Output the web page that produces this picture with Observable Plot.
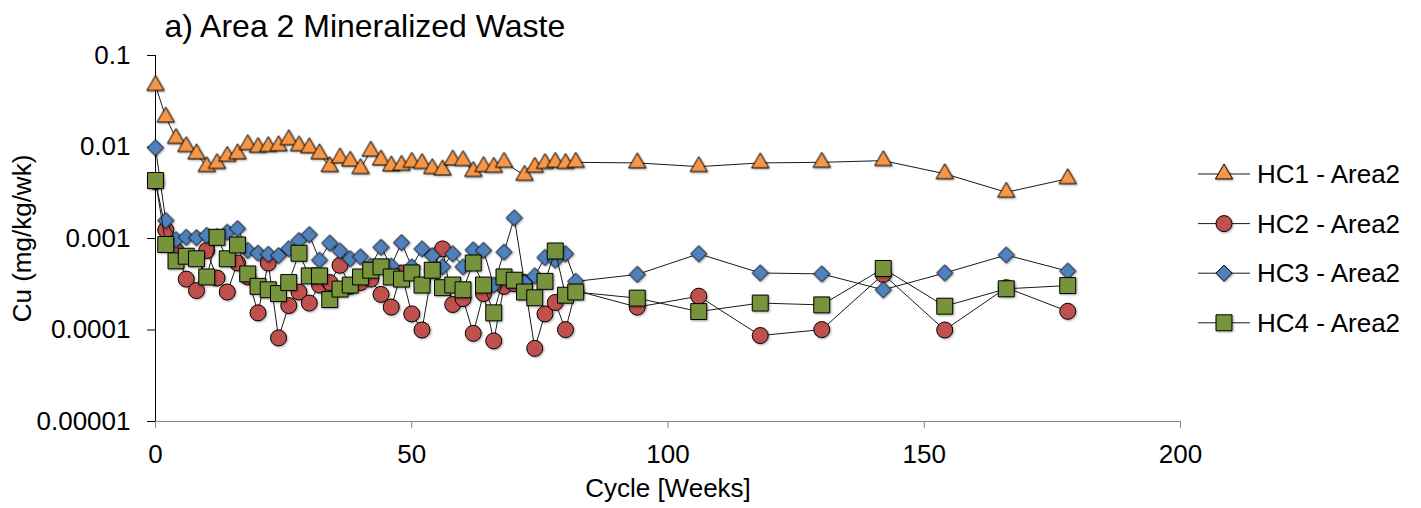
<!DOCTYPE html>
<html>
<head>
<meta charset="utf-8">
<script src="https://cdn.jsdelivr.net/npm/d3@7"></script>
<script src="https://cdn.jsdelivr.net/npm/@observablehq/plot@0.6"></script>
<style>
  html, body { margin: 0; padding: 0; background: #fff; }
  #chart { position: relative; width: 1421px; height: 508px; }
  svg { font-family: "Liberation Sans", Arial, sans-serif; }
  .shadowed { filter: drop-shadow(1.5px 1.5px 1px rgba(0,0,0,0.35)); }
</style>
</head>
<body>
<div id="chart"></div>
<script>
// ---- data ----
const weeks = [0,2,4,6,8,10,12,14,16,18,20,22,24,26,28,30,32,34,36,38,40,42,44,46,48,50,52,54,56,58,60,62,64,66,68,70,72,74,76,78,80,82,94,106,118,130,142,154,166,178];

const hc1 = [0.047,0.0212,0.0124,0.0101,0.0084,0.0061,0.0066,0.0079,0.0084,0.0106,0.0099,0.0101,0.0103,0.012,0.0103,0.0098,0.0084,0.0061,0.0076,0.0070,0.0058,0.0090,0.0072,0.0062,0.0063,0.0068,0.0066,0.0058,0.0056,0.0072,0.0071,0.0054,0.0061,0.0060,0.0068,null,0.0049,0.0060,0.0066,0.0068,0.0066,0.0068,0.0067,0.0061,0.0067,0.0068,0.0071,0.0051,0.0032,0.0045];

const hc2 = [0.0042,0.00124,0.00074,0.00036,0.00027,0.00074,0.00037,0.00026,0.00054,0.00038,0.000154,0.00054,0.000082,0.000185,0.00026,0.000197,0.00031,0.00033,0.00051,0.0003,0.00033,0.00036,0.000245,0.000178,0.00042,0.00015,0.0001,0.00045,0.00077,0.00019,0.00022,0.000092,0.00025,0.000076,0.0003,0.00032,0.00033,0.000063,0.00015,0.0002,0.000101,0.00027,0.000178,0.000234,0.000087,0.000101,0.000405,0.0001,0.00029,0.00016];

const hc3 = [0.0098,0.00157,0.00097,0.00103,0.00102,0.00108,0.00105,0.00117,0.00128,0.00074,0.00069,0.00067,0.00065,0.00077,0.00095,0.0011,0.00058,0.00089,0.00073,0.0006,0.00063,0.0005,0.0008,0.0005,0.0009,0.00049,0.00077,0.00065,0.00049,0.00068,0.00049,0.00075,0.00074,0.00031,0.00071,0.00168,0.00033,0.00039,0.00062,0.00058,0.00068,0.00034,0.000405,0.00068,0.00042,0.00041,0.000275,0.00042,0.00066,0.00044];

const hc4 = [0.0043,0.00086,0.00057,0.00064,0.0006,0.00038,0.00103,0.0006,0.00085,0.00041,0.0003,0.000275,0.00025,0.00033,0.00069,0.00039,0.00039,0.000215,0.00028,0.00031,0.00038,0.00045,0.00049,0.00038,0.00036,0.00042,0.00031,0.00045,0.00029,0.00031,0.000275,0.00054,0.00031,0.000154,0.00038,0.00035,0.00026,0.000225,0.00034,0.00073,0.00024,0.00026,0.000223,0.000159,0.000197,0.000188,0.00047,0.000182,0.000282,0.000306];

const seriesNames = ["HC1 - Area2","HC2 - Area2","HC3 - Area2","HC4 - Area2"];
const seriesValues = [hc1, hc2, hc3, hc4];
const seriesSymbols = ["triangle","circle","diamond2","square"];
const seriesFills = ["#F79646","#C0504D","#4F81BD","#77933C"];
const seriesR = [6.4, 8, 7.3, 9];

const xTicks = [0,50,100,150,200];
const yTicks = [0.00001,0.0001,0.001,0.01,0.1];
const yTickLabels = ["0.00001","0.0001","0.001","0.01","0.1"];

const titleText = "a) Area 2 Mineralized Waste";
const xLabel = "Cycle [Weeks]";
const yLabel = "Cu (mg/kg/wk)";

// ---- build ----
const FONT = "\"Liberation Sans\", Arial, sans-serif";
const series = seriesNames.map((name, i) => ({
  name,
  symbol: seriesSymbols[i],
  fill: seriesFills[i],
  r: seriesR[i],
  rows: weeks.map((w, j) => ({week: w, value: seriesValues[i][j]})).filter(d => d.value != null)
}));

const marks = [
  Plot.ruleY([yTicks[0]], {x1: 0, x2: 200, stroke: "#868686", strokeWidth: 1}),
  Plot.ruleX([0], {y1: yTicks[0], y2: yTicks[yTicks.length - 1], stroke: "#000", strokeWidth: 1}),
  Plot.axisY({ticks: yTicks, tickFormat: d => yTickLabels[yTicks.indexOf(d)], tickSize: 8, tickPadding: 17, fontSize: 26, label: null, stroke: "#000"}),
  Plot.axisX({ticks: xTicks, tickFormat: d => String(d), tickSize: 7, tickPadding: 16, fontSize: 26, label: null, stroke: "#868686"}),
  Plot.text([titleText], {frameAnchor: "top-left", dx: 9, dy: -29, textAnchor: "start", lineAnchor: "middle", fontSize: 32, fill: "#000"}),
  Plot.text([xLabel], {frameAnchor: "bottom", dy: 67, textAnchor: "middle", lineAnchor: "middle", fontSize: 26, fill: "#000"}),
  Plot.text([yLabel], {frameAnchor: "left", dx: -133, rotate: -90, textAnchor: "middle", lineAnchor: "middle", fontSize: 26, fill: "#000"})
];
for (const s of series) {
  marks.push(Plot.line(s.rows, {x: "week", y: "value", stroke: "#1a1a1a", strokeWidth: 1}));
  marks.push(Plot.dot(s.rows, {x: "week", y: "value", symbol: s.symbol, r: s.r, fill: s.fill, stroke: "#000", strokeWidth: 1, className: "shadowed"}));
}

const svg = Plot.plot({
  width: 1421,
  height: 508,
  marginLeft: 155,
  marginRight: 241,
  marginTop: 55,
  marginBottom: 87,
  style: {fontFamily: FONT, color: "#000", background: "#fff", overflow: "visible"},
  x: {type: "linear", domain: [0, 200]},
  y: {type: "log", domain: [yTicks[0], yTicks[yTicks.length - 1]]},
  marks
});
document.getElementById("chart").appendChild(svg);

// ---- legend (drawn into the same svg) ----
const lg = d3.select(svg).append("g").attr("font-family", FONT).attr("text-anchor", "start");
const legendLeft = 1198, legendTop = 174, legendStep = 49.6, legendLineW = 52;
const symMap = {triangle: d3.symbolTriangle, circle: d3.symbolCircle, diamond2: d3.symbolDiamond2, square: d3.symbolSquare};
series.forEach((s, i) => {
  const y = legendTop + i * legendStep;
  const g = lg.append("g").attr("transform", `translate(${legendLeft},${y})`);
  g.append("line").attr("x1", 0).attr("x2", legendLineW).attr("y1", 0).attr("y2", 0)
    .attr("stroke", "#1a1a1a").attr("stroke-width", 1);
  g.append("path").attr("transform", `translate(${legendLineW / 2},0)`)
    .attr("d", d3.symbol(symMap[s.symbol], Math.PI * s.r * s.r)())
    .attr("fill", s.fill).attr("stroke", "#000").attr("stroke-width", 1)
    .attr("class", "shadowed");
  g.append("text").attr("x", legendLineW + 7).attr("y", 0).attr("dy", "0.35em")
    .attr("text-anchor", "start").attr("font-size", 26).attr("fill", "#000").text(s.name);
});
</script>
</body>
</html>
